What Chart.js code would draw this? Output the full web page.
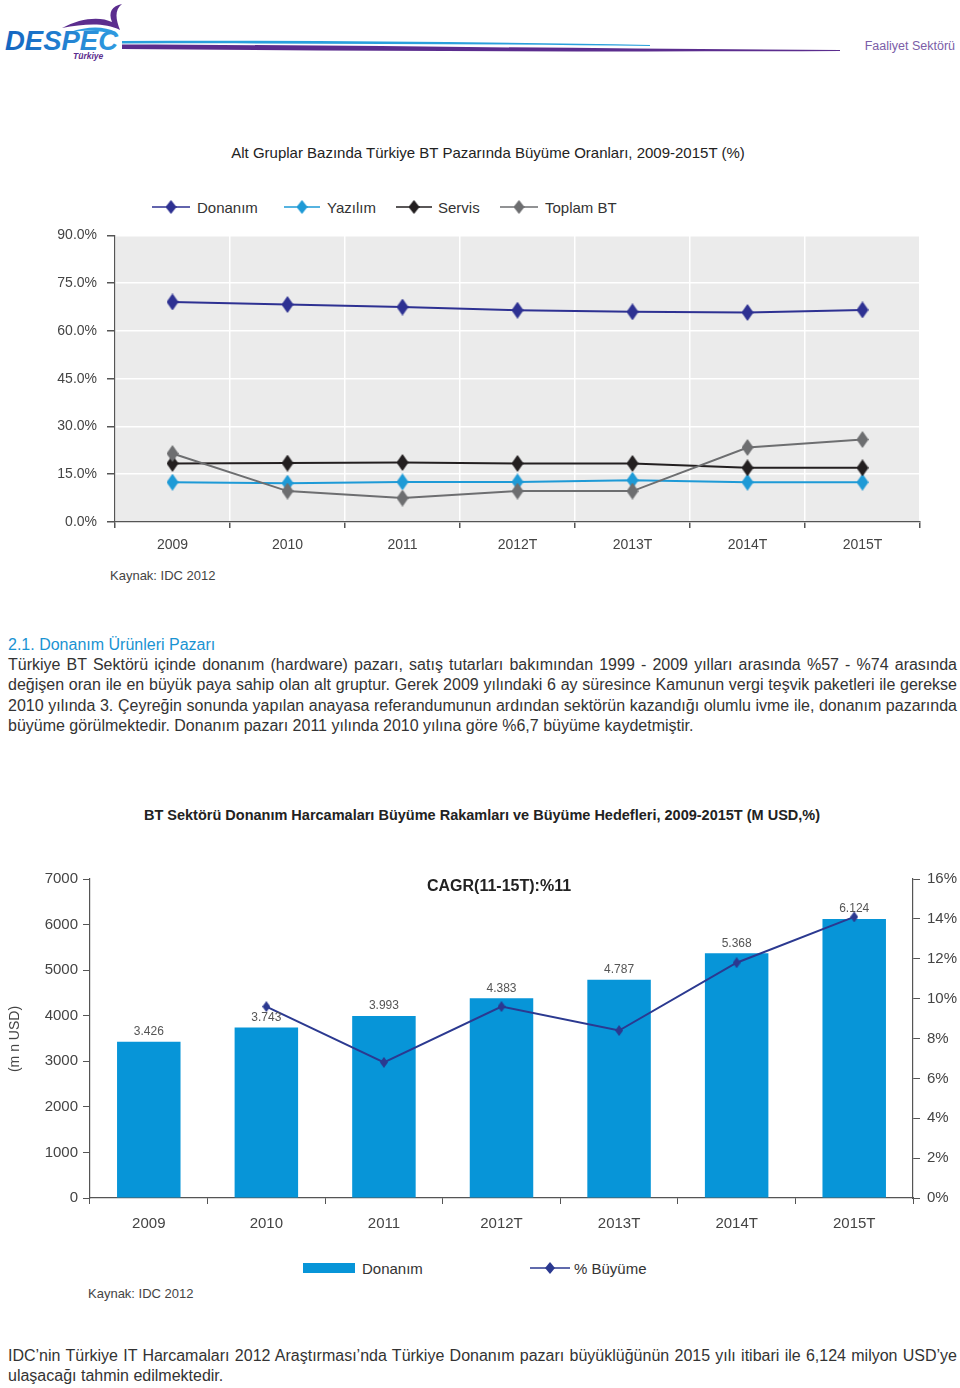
<!DOCTYPE html>
<html lang="tr">
<head>
<meta charset="UTF-8">
<title>Faaliyet Sektörü</title>
<script src="https://cdn.jsdelivr.net/npm/chart.js"></script>
<style>
  body { margin: 0; background: #fff; font-family: "Liberation Sans", Arial, sans-serif; color: #333; }
  #page { position: relative; width: 960px; height: 1388px; overflow: hidden; }
  .abs { position: absolute; white-space: nowrap; }
  .para div { text-align: justify; text-align-last: justify; height: 20.3px; line-height: 20.3px; }
  .legend { position: absolute; display: flex; align-items: center; font-size: 15px; color: #333; }
</style>
</head>
<body>
<div id="page">

  <!-- header -->
  <svg class="abs" style="left:0;top:0" width="960" height="70">
    <defs>
      <linearGradient id="lg" x1="0" x2="1">
        <stop offset="0" stop-color="#1565c0"/>
        <stop offset="1" stop-color="#2f9be0"/>
      </linearGradient>
    </defs>
    <path d="M62 28 C80 18 100 16 112 22 C108 12 112 6 122 4 C114 10 116 20 120 30 C104 22 84 24 62 28 Z" fill="#5b2d8e"/>
    <path d="M70 32 C88 26 104 26 116 32 L114 35 C102 30 88 30 70 32 Z" fill="#2f9be0"/>
    <text x="5" y="50" font-family="Liberation Sans" font-weight="bold" font-style="italic" font-size="28" fill="url(#lg)" textLength="113" lengthAdjust="spacingAndGlyphs">DESPEC</text>
    <text x="73" y="59" font-family="Liberation Sans" font-weight="bold" font-style="italic" font-size="8.5" fill="#5b2d8e">Türkiye</text>
    <path d="M122 41 C300 40 480 42 650 45 L650 46 C480 44 300 43 122 43.5 Z" fill="#2aa0dc"/>
    <path d="M122 44.5 C350 45 600 49 840 50 L840 51 C600 52 350 51 122 49 Z" fill="#5b2d8e"/>
    <text x="955" y="50" text-anchor="end" font-family="Liberation Sans" font-size="12.5" fill="#7b5ea7">Faaliyet Sektörü</text>
  </svg>

  <!-- chart 1 -->
  <div class="abs" style="left:0;top:144px;width:960px;text-align:center;font-size:15px;color:#222">
    <span style="position:relative;left:8px">Alt Gruplar Bazında Türkiye BT Pazarında Büyüme Oranları, 2009-2015T (%)</span>
  </div>
  <div id="legend1"></div>
  <div class="abs" style="left:0;top:217px;width:960px;height:345px"><canvas id="c1"></canvas></div>
  <div class="abs" style="left:110px;top:568px;font-size:13px;color:#444">Kaynak: IDC 2012</div>

  <!-- text -->
  <div class="abs" style="left:8px;top:634px;font-size:16px;color:#1a93d2;line-height:22px">2.1. Donanım Ürünleri Pazarı</div>
  <div class="abs para" style="left:8px;top:655px;width:949px;font-size:16px;white-space:normal">
    <div>Türkiye BT Sektörü içinde donanım (hardware) pazarı, satış tutarları bakımından 1999 - 2009 yılları arasında %57 - %74 arasında</div>
    <div>değişen oran ile en büyük paya sahip olan alt gruptur. Gerek 2009 yılındaki 6 ay süresince Kamunun vergi teşvik paketleri ile gerekse</div>
    <div>2010 yılında 3. Çeyreğin sonunda yapılan anayasa referandumunun ardından sektörün kazandığı olumlu ivme ile, donanım pazarında</div>
    <div style="text-align-last:left">büyüme görülmektedir. Donanım pazarı 2011 yılında 2010 yılına göre %6,7 büyüme kaydetmiştir.</div>
  </div>

  <!-- chart 2 -->
  <div class="abs" style="left:0;top:807px;width:960px;text-align:center;font-size:14.5px;font-weight:bold;color:#222">
    <span style="position:relative;left:2px">BT Sektörü Donanım Harcamaları Büyüme Rakamları ve Büyüme Hedefleri, 2009-2015T (M USD,%)</span>
  </div>
  <div class="abs" style="left:0;top:863px;width:960px;height:375px"><canvas id="c2"></canvas></div>
  <div class="abs" style="left:427px;top:877px;font-size:16px;font-weight:bold;color:#222">CAGR(11-15T):%11</div>
  <div class="abs" style="left:-26px;top:1031px;width:80px;text-align:center;font-size:14px;color:#444;transform:rotate(-90deg)">(m n USD)</div>
  <div id="legend2"></div>
  <div class="abs" style="left:88px;top:1286px;font-size:13px;color:#444">Kaynak: IDC 2012</div>

  <div class="abs para" style="left:8px;top:1346px;width:949px;font-size:16px;white-space:normal">
    <div>IDC’nin Türkiye IT Harcamaları 2012 Araştırması’nda Türkiye Donanım pazarı büyüklüğünün 2015 yılı itibari ile 6,124 milyon USD’ye</div>
    <div style="text-align-last:left">ulaşacağı tahmin edilmektedir.</div>
  </div>
</div>

<script>
    // chart 1 data (% growth by sub group)
    const years = ["2009", "2010", "2011", "2012T", "2013T", "2014T", "2015T"];
    const donanimPay = [69.1, 68.3, 67.5, 66.5, 66.0, 65.8, 66.6];
    const yazilim = [12.5, 12.2, 12.6, 12.6, 13.1, 12.5, 12.5];
    const servis = [18.4, 18.5, 18.7, 18.4, 18.4, 17.0, 17.0];
    const toplamBT = [21.5, 9.7, 7.5, 9.7, 9.7, 23.4, 25.9];
    const names1 = ["Donanım", "Yazılım", "Servis", "Toplam BT"];
    const colors1 = ["#2e3192", "#1e9ad6", "#231f20", "#6d6e70"];

    // chart 2 data (M USD and % growth)
    const donanimUSD = [3426, 3743, 3993, 4383, 4787, 5368, 6124];
    const buyume = [null, 9.6, 6.8, 9.6, 8.4, 11.8, 14.1];
    const barColor = "#0795d8";
    const lineColor = "#2b3990";

    // diamond images used as point styles
    function diamond(color, w, h) {
        let c = document.createElement("canvas");
        c.width = w; c.height = h;
        let g = c.getContext("2d");
        g.fillStyle = color;
        g.beginPath();
        g.moveTo(w / 2, 0); g.lineTo(w, h / 2); g.lineTo(w / 2, h); g.lineTo(0, h / 2);
        g.closePath();
        g.fill();
        return c;
    }

    // legend symbol: short line with a diamond
    function legendSymbol(color, w, dw, dh) {
        let c = document.createElement("canvas");
        c.width = w; c.height = dh;
        let g = c.getContext("2d");
        g.strokeStyle = color; g.lineWidth = 1.5;
        g.beginPath(); g.moveTo(0, dh / 2); g.lineTo(w, dh / 2); g.stroke();
        g.drawImage(diamond(color, dw, dh), (w - dw) / 2, 0);
        return c;
    }

    function addLegend(id, items) {
        let box = document.getElementById(id);
        items.forEach(it => {
            let d = document.createElement("div");
            d.className = "legend";
            d.style.left = it.x + "px";
            d.style.top = (it.y - 9) + "px";
            d.style.height = "18px";
            it.sym.style.marginRight = it.gap + "px";
            d.appendChild(it.sym);
            d.appendChild(document.createTextNode(it.text));
            box.appendChild(d);
        });
    }

    addLegend("legend1", [
        { x: 152, y: 207, gap: 7, text: names1[0], sym: legendSymbol(colors1[0], 38, 11, 14) },
        { x: 284, y: 207, gap: 7, text: names1[1], sym: legendSymbol(colors1[1], 36, 11, 14) },
        { x: 396, y: 207, gap: 6, text: names1[2], sym: legendSymbol(colors1[2], 36, 11, 14) },
        { x: 500, y: 207, gap: 7, text: names1[3], sym: legendSymbol(colors1[3], 38, 11, 14) }
    ]);

    let sw = document.createElement("canvas");
    sw.width = 52; sw.height = 10;
    let sg = sw.getContext("2d"); sg.fillStyle = barColor; sg.fillRect(0, 0, 52, 10);
    addLegend("legend2", [
        { x: 303, y: 1268, gap: 7, text: "Donanım", sym: sw },
        { x: 530, y: 1268, gap: 4, text: "% Büyüme", sym: legendSymbol(lineColor, 40, 10, 12) }
    ]);

    // gray plot background for chart 1
    const plotBg = {
        id: "plotBg",
        beforeDraw(chart) {
            let a = chart.chartArea, g = chart.ctx;
            g.save();
            g.fillStyle = "#ebebeb";
            g.fillRect(a.left, a.top, a.right - a.left, a.bottom - a.top);
            g.restore();
        }
    };

    const axisFont = { family: "Liberation Sans", size: 14 };

    let series1 = [donanimPay, yazilim, servis, toplamBT];
    new Chart(document.getElementById("c1"), {
        type: "line",
        data: {
            labels: years,
            datasets: series1.map((d, i) => ({
                label: names1[i],
                data: d,
                borderColor: colors1[i],
                backgroundColor: colors1[i],
                borderWidth: 2,
                pointStyle: diamond(colors1[i], 12, 17),
                tension: 0
            })).reverse()
        },
        options: {
            responsive: true,
            maintainAspectRatio: false,
            animation: false,
            layout: { padding: { top: 3, right: 40, left: 0, bottom: 0 } },
            plugins: { legend: { display: false }, tooltip: { enabled: false } },
            scales: {
                x: {
                    offset: true,
                    grid: { offset: true, color: "#ffffff", lineWidth: 1.5, tickColor: "#555", tickLength: 6 },
                    border: { color: "#555", width: 1.2 },
                    ticks: { font: axisFont, color: "#444", padding: 9 },
                    afterFit: s => { s.height = 40; }
                },
                y: {
                    min: 0, max: 90,
                    ticks: { stepSize: 15, font: axisFont, color: "#444", padding: 10, callback: v => v.toFixed(1) + "%" },
                    grid: { color: "#ffffff", lineWidth: 1.5, tickColor: "#555", tickLength: 8 },
                    border: { color: "#555", width: 1.2 },
                    afterFit: s => { s.width = 115; }
                }
            }
        },
        plugins: [plotBg]
    });

    // value labels above bars, written as 3.426
    const barLabels = {
        id: "barLabels",
        afterDatasetsDraw(chart) {
            let meta = chart.getDatasetMeta(0), g = chart.ctx;
            g.save();
            g.font = "12px Liberation Sans";
            g.fillStyle = "#555";
            g.textAlign = "center";
            g.textBaseline = "middle";
            meta.data.forEach((el, i) => {
                g.fillText((donanimUSD[i] / 1000).toFixed(3), el.x, el.y - 10);
            });
            g.restore();
        }
    };

    const font2 = { family: "Liberation Sans", size: 15 };
    new Chart(document.getElementById("c2"), {
        type: "bar",
        data: {
            labels: years,
            datasets: [
                {
                    type: "bar",
                    label: "Donanım",
                    data: donanimUSD,
                    backgroundColor: barColor,
                    barPercentage: 0.54,
                    categoryPercentage: 1.0,
                    yAxisID: "y",
                    order: 1
                },
                {
                    type: "line",
                    label: "% Büyüme",
                    data: buyume,
                    borderColor: lineColor,
                    backgroundColor: lineColor,
                    borderWidth: 2,
                    pointStyle: diamond(lineColor, 8, 11),
                    yAxisID: "y1",
                    order: 0
                }
            ]
        },
        options: {
            responsive: true,
            maintainAspectRatio: false,
            animation: false,
            layout: { padding: { top: 3, right: 0, left: 0, bottom: 0 } },
            plugins: { legend: { display: false }, tooltip: { enabled: false } },
            scales: {
                x: {
                    grid: { offset: true, drawOnChartArea: false, tickColor: "#555", tickLength: 6 },
                    border: { color: "#555", width: 1.2 },
                    ticks: { font: font2, color: "#444", padding: 11 },
                    afterFit: s => { s.height = 40; }
                },
                y: {
                    min: 0, max: 7000,
                    ticks: { stepSize: 1000, font: font2, color: "#444", padding: 5, callback: v => String(v) },
                    grid: { drawOnChartArea: false, tickColor: "#555", tickLength: 7 },
                    border: { color: "#555", width: 1.2 },
                    afterFit: s => { s.width = 90; }
                },
                y1: {
                    position: "right",
                    min: 0, max: 16,
                    ticks: { stepSize: 2, font: font2, color: "#444", padding: 7, callback: v => v + "%" },
                    grid: { drawOnChartArea: false, tickColor: "#555", tickLength: 7 },
                    border: { color: "#555", width: 1.2 },
                    afterFit: s => { s.width = 47; }
                }
            }
        },
        plugins: [barLabels]
    });
</script>
</body>
</html>
